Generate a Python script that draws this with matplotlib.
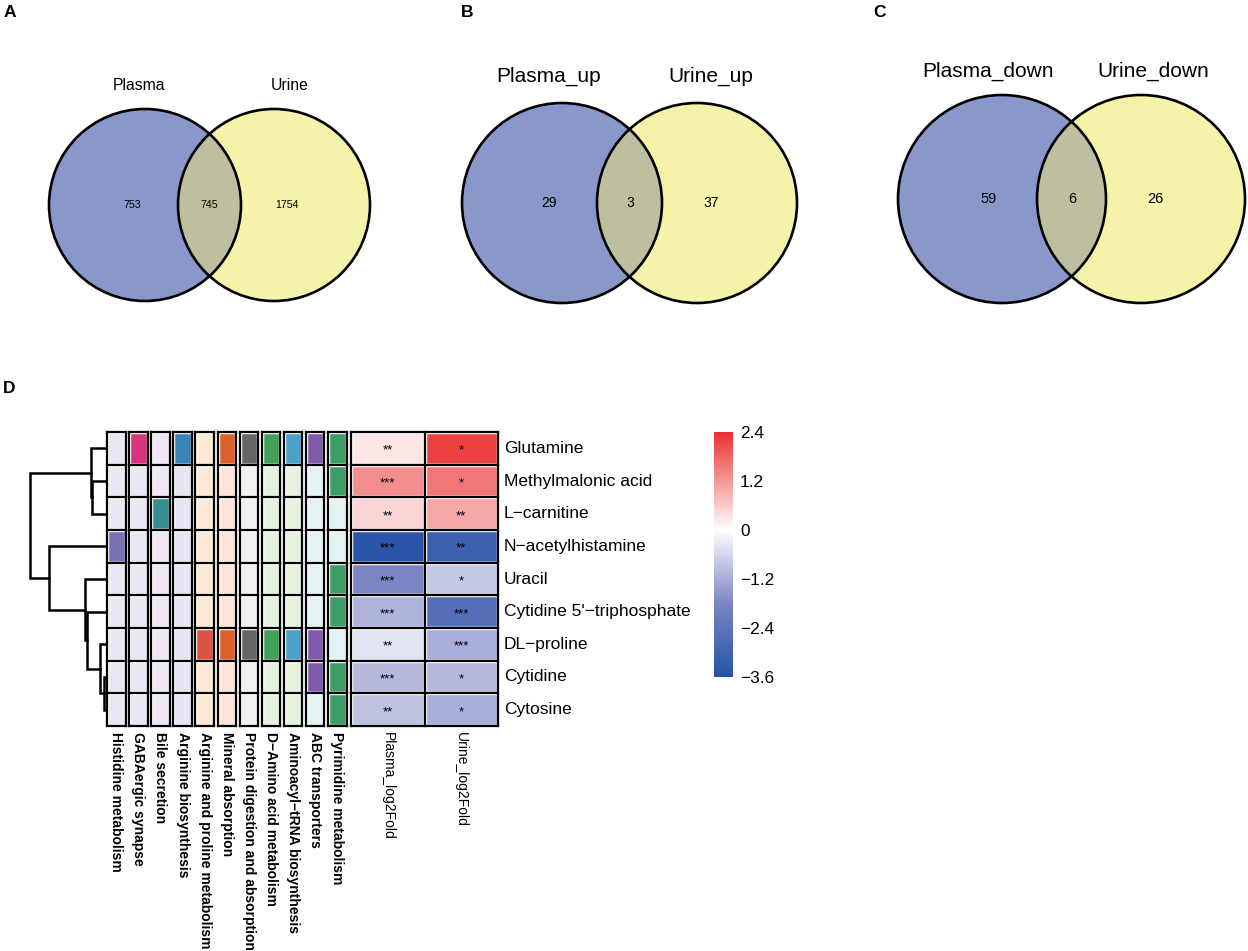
import matplotlib
matplotlib.use('Agg')
import matplotlib.pyplot as plt
from matplotlib.patches import Circle, Rectangle
from matplotlib.colors import LinearSegmentedColormap, Normalize
import matplotlib.cm as cm
import matplotlib.transforms as mtransforms

plt.rcParams['font.family'] = ['Liberation Sans', 'DejaVu Sans']

# ---------------- data ----------------
venn_panels = ['A', 'B', 'C']
venn_left_labels = ['Plasma', 'Plasma_up', 'Plasma_down']
venn_right_labels = ['Urine', 'Urine_up', 'Urine_down']
venn_left_only = [753, 29, 59]
venn_overlap = [745, 3, 6]
venn_right_only = [1754, 37, 26]

metabolites = ['Glutamine', 'Methylmalonic acid', 'L\u2212carnitine', 'N\u2212acetylhistamine',
               'Uracil', "Cytidine 5'\u2212triphosphate", 'DL\u2212proline', 'Cytidine', 'Cytosine']
fold_columns = ['Plasma_log2Fold', 'Urine_log2Fold']
plasma_log2fold = [0.3, 1.3, 0.5, -3.5, -1.8, -1.1, -0.4, -1.0, -0.9]
urine_log2fold = [2.2, 1.6, 1.0, -3.1, -0.8, -2.6, -1.2, -1.0, -1.2]
plasma_sig = ['**', '***', '**', '***', '***', '***', '**', '***', '**']
urine_sig = ['*', '*', '**', '**', '*', '***', '***', '*', '*']

pathways = ['Histidine metabolism', 'GABAergic synapse', 'Bile secretion', 'Arginine biosynthesis',
            'Arginine and proline metabolism', 'Mineral absorption', 'Protein digestion and absorption',
            'D\u2212Amino acid metabolism', 'Aminoacyl\u2212tRNA biosynthesis', 'ABC transporters',
            'Pyrimidine metabolism']
pathway_hits = [
    [0, 0, 0, 1, 0, 0, 0, 0, 0],
    [1, 0, 0, 0, 0, 0, 0, 0, 0],
    [0, 0, 1, 0, 0, 0, 0, 0, 0],
    [1, 0, 0, 0, 0, 0, 0, 0, 0],
    [0, 0, 0, 0, 0, 0, 1, 0, 0],
    [1, 0, 0, 0, 0, 0, 1, 0, 0],
    [1, 0, 0, 0, 0, 0, 1, 0, 0],
    [1, 0, 0, 0, 0, 0, 1, 0, 0],
    [1, 0, 0, 0, 0, 0, 1, 0, 0],
    [1, 0, 0, 0, 0, 0, 1, 1, 0],
    [1, 1, 0, 0, 1, 1, 0, 1, 1],
]
pathway_dark = ['#7872B4', '#D6347C', '#378C8C', '#3A83B7', '#DC5243', '#E0602C',
                '#666666', '#43A25A', '#4AA1C9', '#7E5BA8', '#3E9E66']
pathway_light = ['#E8E6F2', '#E8E6F2', '#EFE6F3', '#E6E6F2', '#FBE9D5', '#FCE5D8',
                 '#F0F0F0', '#E4F1E1', '#E6F1E0', '#E4F2F4', '#E3F2F3']

cbar_ticks = [2.4, 1.2, 0, -1.2, -2.4, -3.6]

# dendrogram merges: (child_a, child_b, height); leaves are 0..8, new nodes from 9
dendro_merges = [(7, 8, 0.2), (6, 9, 0.6), (5, 10, 1.9), (4, 11, 2.1), (3, 12, 5.7),
                 (1, 2, 1.4), (0, 14, 1.5), (15, 13, 7.6)]

# ---------------- figure ----------------
W, H = 1248, 951
fig = plt.figure(figsize=(W / 100, H / 100), dpi=100)


def add_ax(left, top, width, height):
    return fig.add_axes([left / W, 1 - (top + height) / H, width / W, height / H])


def ftext(x, y, s, **kw):
    fig.text(x / W, 1 - y / H, s, **kw)


# ---------------- Venn diagrams ----------------
BLUE, YELLOW, OVER = '#8A97CB', '#F5F3AA', '#BDBF9F'
venn_geom = [(145, 274, 205, 96), (562, 697, 203, 100), (1002, 1141, 199, 104)]
venn_label_pos = [((139, 86), (290, 86)), ((549, 76), (711, 76)), ((988, 71), (1153, 71))]
venn_count_x = [(132, 209, 287), (549, 630, 711), (989, 1072, 1155)]
venn_label_fs = [11.3, 15, 15]
venn_count_fs = [7.7, 10, 10.5]
panel_letter_x = [4, 461, 873]

vax = add_ax(0, 0, W, 350)
vax.set_xlim(0, W)
vax.set_ylim(350, 0)
vax.axis('off')
for k in range(3):
    cx1, cx2, cy, r = venn_geom[k]
    c1 = Circle((cx1, cy), r, fc=BLUE, ec='none')
    c2 = Circle((cx2, cy), r, fc=YELLOW, ec='none')
    vax.add_patch(c1)
    vax.add_patch(c2)
    cov = Circle((cx2, cy), r, fc=OVER, ec='none')
    vax.add_patch(cov)
    cov.set_clip_path(c1)
    for cx in (cx1, cx2):
        vax.add_patch(Circle((cx, cy), r, fill=False, ec='black', lw=1.9, clip_on=False))
    (lx1, ly1), (lx2, ly2) = venn_label_pos[k]
    vax.text(lx1, ly1, venn_left_labels[k], ha='center', va='center', fontsize=venn_label_fs[k])
    vax.text(lx2, ly2, venn_right_labels[k], ha='center', va='center', fontsize=venn_label_fs[k])
    xs = venn_count_x[k]
    for x, v in zip(xs, [venn_left_only[k], venn_overlap[k], venn_right_only[k]]):
        vax.text(x, cy, str(v), ha='center', va='center', fontsize=venn_count_fs[k])
    ftext(panel_letter_x[k], 17, venn_panels[k], fontsize=12.5, fontweight='bold', va='baseline')

ftext(3, 393, 'D', fontsize=12.5, fontweight='bold', va='baseline')

# ---------------- panel D layout ----------------
ROW_TOP, ROW_BOT = 432, 726
NR = len(metabolites)
row_h = (ROW_BOT - ROW_TOP)

ANN_LEFT, ANN_STEP, ANN_W = 107, 22.1, 18.5
ann_total = ANN_STEP * (len(pathways) - 1) + ANN_W
HM_LEFT, HM_RIGHT = 351, 498

BLACK_LW = 1.6
WHITE_LW = 2.5

# annotation columns
aax = add_ax(ANN_LEFT, ROW_TOP, ann_total, row_h)
aax.set_xlim(0, ann_total)
aax.set_ylim(NR, 0)
aax.axis('off')
for j, pw in enumerate(pathways):
    x0 = j * ANN_STEP
    for i in range(NR):
        col = pathway_dark[j] if pathway_hits[j][i] else pathway_light[j]
        aax.add_patch(Rectangle((x0, i), ANN_W, 1, fc=col, ec='white', lw=WHITE_LW, clip_on=False))
    for i in range(NR + 1):
        aax.plot([x0, x0 + ANN_W], [i, i], color='black', lw=BLACK_LW, clip_on=False,
                 solid_capstyle='projecting', zorder=5)
    for xx in (x0, x0 + ANN_W):
        aax.plot([xx, xx], [0, NR], color='black', lw=BLACK_LW, clip_on=False,
                 solid_capstyle='projecting', zorder=5)
    lab_tr = mtransforms.offset_copy(aax.transData, fig=fig, x=0, y=-4.5, units='points')
    aax.text(x0 + ANN_W / 2, NR, pw, rotation=-90, ha='center', va='top', fontsize=10,
             fontweight='bold', transform=lab_tr)

# heatmap
cmap = LinearSegmentedColormap.from_list('bwr_custom', [
    (0.0, '#2552A6'), (0.3, '#7C85C3'), (0.6, '#FFFFFF'), (1.0, '#EA3131')])
norm = Normalize(vmin=-3.6, vmax=2.4)
hax = add_ax(HM_LEFT, ROW_TOP, HM_RIGHT - HM_LEFT, row_h)
hax.set_xlim(0, 2)
hax.set_ylim(NR, 0)
hax.axis('off')
values = [plasma_log2fold, urine_log2fold]
sigs = [plasma_sig, urine_sig]
star_tr = mtransforms.offset_copy(hax.transData, fig=fig, x=0, y=-3.8, units='points')
for j in range(2):
    for i in range(NR):
        hax.add_patch(Rectangle((j, i), 1, 1, fc=cmap(norm(values[j][i])), ec='white',
                                lw=WHITE_LW, clip_on=False))
        hax.text(j + 0.5, i + 0.5, sigs[j][i], ha='center', va='baseline', fontsize=9.5,
                 transform=star_tr)
for i in range(NR + 1):
    hax.plot([0, 2], [i, i], color='black', lw=BLACK_LW, clip_on=False,
             solid_capstyle='projecting', zorder=5)
for j in range(3):
    hax.plot([j, j], [0, NR], color='black', lw=BLACK_LW, clip_on=False,
             solid_capstyle='projecting', zorder=5)
row_tr = mtransforms.offset_copy(hax.transData, fig=fig, x=4.3, y=0, units='points')
for i, m in enumerate(metabolites):
    hax.text(2, i + 0.5, m, ha='left', va='center', fontsize=12.5, transform=row_tr)
col_tr = mtransforms.offset_copy(hax.transData, fig=fig, x=0, y=-4.5, units='points')
for j, c in enumerate(fold_columns):
    hax.text(j + 0.5, NR, c, rotation=-90, ha='center', va='top', fontsize=10, transform=col_tr)

# dendrogram
ROOT_H = max(m[2] for m in dendro_merges)
dax = add_ax(30, ROW_TOP, 106 - 30, row_h)
dax.set_xlim(ROOT_H, 0)
dax.set_ylim(NR, 0)
dax.axis('off')
node_pos = {i: i + 0.5 for i in range(NR)}
node_h = {i: 0.0 for i in range(NR)}
for k, (a, b, h) in enumerate(dendro_merges):
    nid = NR + k
    dax.plot([node_h[a], h, h, node_h[b]], [node_pos[a], node_pos[a], node_pos[b], node_pos[b]],
             color='black', lw=1.8, clip_on=False, solid_joinstyle='miter')
    node_pos[nid] = (node_pos[a] + node_pos[b]) / 2
    node_h[nid] = h

# colorbar
cax = add_ax(714, ROW_TOP, 19, 677 - ROW_TOP)
sm = cm.ScalarMappable(norm=norm, cmap=cmap)
cb = fig.colorbar(sm, cax=cax, ticks=cbar_ticks)
cb.outline.set_visible(False)
cb.ax.tick_params(length=0, pad=5, labelsize=12.4)
cb.ax.set_yticklabels([f'{t:g}'.replace('-', '\u2212') for t in cbar_ticks])

fig.savefig('out.png', dpi=100)
